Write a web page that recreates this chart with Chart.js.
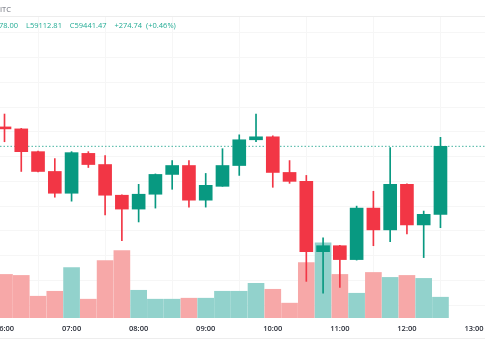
<!DOCTYPE html>
<html>
<head>
<meta charset="utf-8">
<script src="https://cdn.jsdelivr.net/npm/chart.js@4.4.1/dist/chart.umd.min.js"></script>
<style>
  html, body { margin: 0; padding: 0; background: #ffffff; }
  #wrap { position: relative; width: 485px; height: 360px; overflow: hidden; }
  canvas { position: absolute; left: 0; top: 0; }
  .hdr { position: absolute; font-family: "Open Sans", "Noto Sans", sans-serif; font-size: 7.5px; white-space: nowrap; line-height: 1; }
  #sym { left: 0px; top: 6px; color: #6a6d78; }
  #ohlc { left: -1px; top: 22px; color: #22ab94; word-spacing: 2px; }
</style>
</head>
<body>
<div id="wrap">
  <canvas id="c" width="485" height="360"></canvas>
  <div class="hdr" id="sym">ITC</div>
  <div class="hdr" id="ohlc">78.00&nbsp; L59112.81&nbsp; C59441.47&nbsp; +274.74 (+0.46%)</div>
</div>
<script>
// ---- data (15-minute candles) ----
const times  = ["06:00","06:15","06:30","06:45","07:00","07:15","07:30","07:45","08:00","08:15","08:30","08:45","09:00","09:15","09:30","09:45","10:00","10:15","10:30","10:45","11:00","11:15","11:30","11:45","12:00","12:15","12:30"];
const open   = [59520,59512,59420,59340,59252,59413,59368,59244,59188,59248,59328,59364,59224,59280,59364,59468,59480,59336,59300,59016,59040,58984,59192,59104,59288,59124,59166.73];
const high   = [59572,59514,59422,59392,59420,59420,59404,59246,59288,59330,59384,59384,59332,59432,59488,59572,59484,59384,59324,59072,59042,59200,59260,59436,59290,59180,59478.00];
const low    = [59460,59340,59338,59236,59220,59356,59164,59060,59136,59192,59268,59196,59196,59280,59324,59460,59276,59292,58896,58848,58872,58982,59040,59056,59088,58992,59112.81];
const close  = [59512,59420,59340,59252,59416,59368,59244,59188,59248,59328,59364,59224,59284,59364,59468,59480,59336,59300,59016,59040,58984,59192,59104,59288,59124,59166.73,59441.47];
const volume = [44,43,22,27,51,19,58,68,28,19,19,20,20,27,27,35,29,15,56,76,44,25,46,41,43,40,21];
const hourTicks = [6,7,8,9,10,11,12,13];
const lastPrice = 59441.47;

// ---- styling ----
const UP = '#089981', DOWN = '#f23645';
const UPV = '#92d2cc', DOWNV = '#f7a8a8';
const GRID = '#f6f6f6';

const toH = t => { const [h, m] = t.split(':').map(Number); return h + m / 60; };
const xs = times.map(toH);
const isUp = i => close[i] >= open[i];

const bodies = xs.map((x, i) => ({ x, y: [open[i], close[i]] }));
const wicks  = xs.map((x, i) => ({ x, y: [low[i], high[i]] }));
const vols   = xs.map((x, i) => ({ x, y: volume[i] }));
const colC = times.map((_, i) => isUp(i) ? UP : DOWN);
const colV = times.map((_, i) => isUp(i) ? UPV : DOWNV);

const XMIN = 6 - 4.5 / 67.07, XMAX = 13 + 11 / 67.07;

const frame = {
  id: 'frame',
  afterDraw(chart) {
    const { ctx, chartArea } = chart;
    ctx.save();
    ctx.strokeStyle = '#ededed';
    ctx.lineWidth = 1;
    ctx.beginPath();
    ctx.moveTo(0, chartArea.top - 0.5); ctx.lineTo(485, chartArea.top - 0.5);
    ctx.moveTo(0, 338.5); ctx.lineTo(485, 338.5);
    ctx.stroke();
    ctx.restore();
  }
};

new Chart(document.getElementById('c'), {
  type: 'bar',
  data: {
    datasets: [
      { type: 'line', data: [{ x: XMIN, y: lastPrice }, { x: XMAX, y: lastPrice }], yAxisID: 'y',
        borderColor: 'rgba(8,153,129,0.75)', borderWidth: 1, borderDash: [1.5, 2], pointRadius: 0, order: 5 },
      { data: vols, yAxisID: 'yv', backgroundColor: colV, barThickness: 16, grouped: false, order: 4 },
      { data: wicks, yAxisID: 'y', backgroundColor: colC, barThickness: 1, grouped: false, order: 2 },
      { data: bodies, yAxisID: 'y', backgroundColor: colC, barThickness: 13, grouped: false, order: 1 }
    ]
  },
  options: {
    responsive: false,
    animation: false,
    devicePixelRatio: 1,
    layout: { padding: { top: 17, bottom: 21, left: 0, right: 0 } },
    plugins: { legend: { display: false }, tooltip: { enabled: false } },
    scales: {
      x: {
        type: 'linear', min: XMIN, max: XMAX, offset: false,
        afterBuildTicks: s => { s.ticks = hourTicks.map(v => ({ value: v })); },
        afterFit: s => { s.paddingLeft = 0; s.paddingRight = 0; },
        ticks: {
          autoSkip: false, maxRotation: 0, padding: 6, color: '#2a2e39',
          font: { family: '"Open Sans", "Noto Sans", sans-serif', size: 7.5, weight: '600' },
          callback: v => String(v).padStart(2, '0') + ':00'
        },
        grid: { color: GRID, drawTicks: false },
        border: { display: false }
      },
      y: {
        position: 'right', min: 58748, max: 59964,
        afterBuildTicks: s => { const t = []; for (let p = 58800; p <= 59900; p += 100) t.push({ value: p }); s.ticks = t; },
        afterFit: s => { s.width = 0; },
        ticks: { display: false },
        grid: { color: GRID, drawTicks: false },
        border: { display: false }
      },
      yv: {
        display: false, min: 0, max: 304
      }
    }
  },
  plugins: [frame]
});
</script>
</body>
</html>
